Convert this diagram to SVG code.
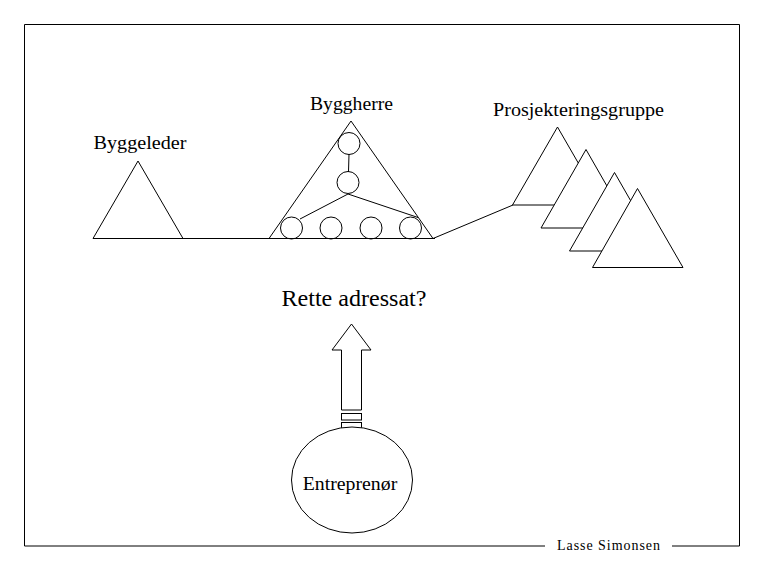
<svg xmlns="http://www.w3.org/2000/svg" width="765" height="570" viewBox="0 0 765 570">
<style>
.s{fill:none;stroke:#000;stroke-width:1}
.w{fill:#fff;stroke:#000;stroke-width:1}
.t{font-family:"Liberation Serif","Times New Roman",serif;fill:#000;text-anchor:middle}
</style>
<rect x="0" y="0" width="765" height="570" fill="#fff"/>
<g id="frame">
<polyline class="s" points="545,546 24.5,546 24.5,24.5 739.5,24.5 739.5,546 672,546"/>
<text class="t" x="608.5" y="549.5" font-size="14" textLength="103" lengthAdjust="spacing">Lasse Simonsen</text>
</g>
<g id="connectors">
<line class="s" x1="93" y1="238.5" x2="435" y2="238.5"/>
<line class="s" x1="433" y1="238.5" x2="513" y2="205"/>
</g>
<g id="byggeleder">
<polygon class="w" points="138,161 183,238.5 93,238.5"/>
<text class="t" x="140" y="148.5" font-size="19.5" textLength="93" lengthAdjust="spacingAndGlyphs">Byggeleder</text>
</g>
<g id="byggherre">
<polygon class="s" points="351,121 433,238.5 269,238.5"/>
<line class="s" x1="349" y1="154" x2="348.5" y2="172"/>
<line class="s" x1="348" y1="194" x2="300" y2="219"/>
<line class="s" x1="348" y1="194" x2="418" y2="217.5"/>
<circle class="s" cx="349" cy="143.5" r="11"/>
<circle class="s" cx="348" cy="182.5" r="11"/>
<circle class="s" cx="291.5" cy="228" r="11"/>
<circle class="s" cx="331" cy="228" r="11"/>
<circle class="s" cx="371" cy="228" r="11"/>
<circle class="s" cx="410.5" cy="228" r="11"/>
<text class="t" x="351.5" y="110" font-size="19" textLength="83" lengthAdjust="spacingAndGlyphs">Byggherre</text>
</g>
<g id="prosjekteringsgruppe">
<polygon class="w" points="557.5,127 602.5,205 512.5,205"/>
<polygon class="w" points="586,149.5 631,228 541,228"/>
<polygon class="w" points="614.5,172.5 659.5,251 569.5,251"/>
<polygon class="w" points="637.5,188.5 683,267.5 592.5,267.5"/>
<text class="t" x="578.5" y="115.5" font-size="19.5" textLength="171" lengthAdjust="spacingAndGlyphs">Prosjekteringsgruppe</text>
</g>
<g id="question">
<text class="t" x="354" y="305.5" font-size="24" textLength="145" lengthAdjust="spacingAndGlyphs">Rette adressat?</text>
</g>
<g id="arrow">
<polygon class="w" points="351.5,324 371,350 361.5,350 361.5,410 341.5,410 341.5,350 332,350"/>
<rect class="w" x="341.5" y="413.5" width="20" height="6.5"/>
<rect class="w" x="341.5" y="422.5" width="20" height="6"/>
</g>
<g id="entreprenor">
<ellipse class="w" cx="352" cy="480" rx="60.5" ry="53"/>
<text class="t" x="350" y="490" font-size="19" textLength="94.5" lengthAdjust="spacingAndGlyphs">Entreprenør</text>
</g>
</svg>
